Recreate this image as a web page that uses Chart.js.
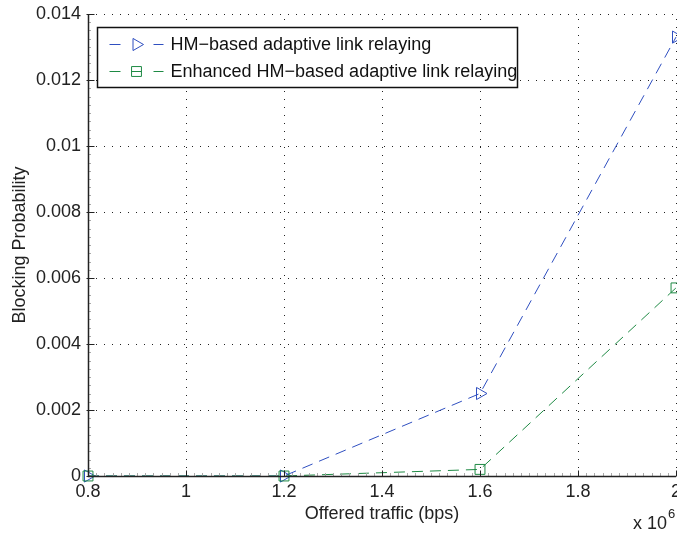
<!DOCTYPE html>
<html>
<head>
<meta charset="utf-8">
<script src="https://cdn.jsdelivr.net/npm/chart.js@4"></script>
<style>
html,body{margin:0;padding:0;background:#fff;}
#wrap{position:relative;width:677px;height:534px;}
</style>
</head>
<body>
<div id="wrap"><canvas id="c" width="677" height="534"></canvas></div>
<script>
// Data (offered traffic in units of 10^6 bps)
const offeredTraffic = [0.8, 1.2, 1.6, 2.0];
const hmBased = [0, 0, 0.0025, 0.0133];
const enhancedHmBased = [0, 0, 0.0002, 0.0057];
const seriesLabels = ['HM\u2212based adaptive link relaying', 'Enhanced HM\u2212based adaptive link relaying'];
const xTickValues = [0.8, 1, 1.2, 1.4, 1.6, 1.8, 2];
const yTickValues = [0, 0.002, 0.004, 0.006, 0.008, 0.01, 0.012, 0.014];
const xTitle = 'Offered traffic (bps)';
const yTitle = 'Blocking Probability';
const xMultiplierBase = 'x 10';
const xMultiplierExp = '6';

const FONT = "'Liberation Sans', Arial, Helvetica, sans-serif";
const BLUE = '#2f4fc0';
const GREEN = '#1e8a44';

const toPts = (xs, ys) => xs.map((x, i) => ({x: x, y: ys[i]}));

const matlabAxes = {
  id: 'matlabAxes',
  afterLayout(chart) {
    const x = chart.scales.x;
    const target = chart.width - 1;
    chart.chartArea.right = target;
    chart.chartArea.width = target - chart.chartArea.left;
    x.right = target;
    x.width = target - x.left;
    x.configure();
  },
  beforeDatasetsDraw(chart) {
    const {ctx, chartArea: a, scales: {x, y}} = chart;
    ctx.save();
    ctx.strokeStyle = '#222';
    ctx.lineWidth = 1;
    ctx.setLineDash([1, 7]);
    xTickValues.forEach(v => {
      const px = Math.round(x.getPixelForValue(v)) + 0.5;
      ctx.beginPath(); ctx.moveTo(px, a.bottom); ctx.lineTo(px, a.top); ctx.stroke();
    });
    yTickValues.forEach(v => {
      const py = Math.round(y.getPixelForValue(v)) + 0.5;
      ctx.beginPath(); ctx.moveTo(a.left, py); ctx.lineTo(a.right, py); ctx.stroke();
    });
    ctx.restore();
  },
  afterDatasetsDraw(chart) {
    const {ctx, chartArea: a, scales: {x, y}} = chart;
    ctx.save();
    // minor ticks
    ctx.strokeStyle = '#aaa';
    ctx.lineWidth = 1;
    for (let i = 0; i <= 56; i++) {
      const py = Math.round(y.getPixelForValue(i * 0.00025)) + 0.5;
      ctx.beginPath(); ctx.moveTo(a.left, py); ctx.lineTo(a.left + 3, py); ctx.stroke();
    }
    for (let i = 0; i <= 72; i++) {
      const px = Math.round(x.getPixelForValue(0.8 + i * 0.2 / 12)) + 0.5;
      ctx.beginPath(); ctx.moveTo(px, a.bottom); ctx.lineTo(px, a.bottom - 3); ctx.stroke();
    }
    // axis lines
    ctx.strokeStyle = '#222';
    ctx.lineWidth = 1.5;
    const lx = Math.round(a.left) + 0.5, by = Math.round(a.bottom) + 0.5;
    ctx.beginPath(); ctx.moveTo(lx, a.top); ctx.lineTo(lx, by); ctx.lineTo(a.right, by); ctx.stroke();
    // major ticks
    ctx.lineWidth = 1;
    xTickValues.forEach(v => {
      const px = Math.round(x.getPixelForValue(v)) + 0.5;
      ctx.beginPath(); ctx.moveTo(px, by); ctx.lineTo(px, by - 6); ctx.stroke();
    });
    yTickValues.forEach(v => {
      const py = Math.round(y.getPixelForValue(v)) + 0.5;
      ctx.beginPath(); ctx.moveTo(lx - 2, py); ctx.lineTo(lx + 6, py); ctx.stroke();
    });
    // multiplier
    ctx.fillStyle = '#222';
    ctx.textBaseline = 'alphabetic';
    ctx.font = '18px ' + FONT;
    ctx.textAlign = 'left';
    ctx.fillText(xMultiplierBase, 633, 529);
    const w = ctx.measureText(xMultiplierBase).width;
    ctx.font = '13px ' + FONT;
    ctx.fillText(xMultiplierExp, 633 + w + 1, 518);
    // legend
    const bx = a.left + 9.5, bY = a.top + 13.5, bw = 420, bh = 60;
    ctx.fillStyle = '#fff';
    ctx.fillRect(bx, bY, bw, bh);
    ctx.strokeStyle = '#111';
    ctx.lineWidth = 1.5;
    ctx.strokeRect(bx, bY, bw, bh);
    const rows = [bY + 16, bY + 43];
    chart.data.datasets.forEach((ds, i) => {
      const ry = Math.round(rows[i]) + 0.5;
      ctx.strokeStyle = ds.borderColor;
      ctx.lineWidth = 1;
      ctx.setLineDash([]);
      ctx.beginPath(); ctx.moveTo(bx + 12, ry); ctx.lineTo(bx + 23, ry); ctx.stroke();
      ctx.beginPath(); ctx.moveTo(bx + 56, ry); ctx.lineTo(bx + 66, ry); ctx.stroke();
      if (i === 1) { ctx.beginPath(); ctx.moveTo(bx + 34, ry); ctx.lineTo(bx + 44, ry); ctx.stroke(); }
      ctx.fillStyle = 'rgba(0,0,0,0)';
      Chart.helpers.drawPoint(ctx, {
        pointStyle: ds.pointStyle, rotation: ds.pointRotation || 0,
        radius: ds.pointRadius, borderWidth: 1
      }, bx + 39, ry);
      ctx.fillStyle = '#111';
      ctx.font = '18px ' + FONT;
      ctx.textAlign = 'left';
      ctx.textBaseline = 'middle';
      ctx.fillText(ds.label, bx + 73, ry + 1);
    });
    ctx.restore();
  }
};

new Chart(document.getElementById('c'), {
  type: 'line',
  data: {
    datasets: [
      {
        label: seriesLabels[0],
        data: toPts(offeredTraffic, hmBased),
        borderColor: BLUE, backgroundColor: 'rgba(0,0,0,0)',
        borderWidth: 1, borderDash: [11, 7],
        pointStyle: 'triangle', pointRotation: 90, pointRadius: 7,
        pointBorderColor: BLUE, pointBackgroundColor: 'rgba(0,0,0,0)', pointBorderWidth: 1,
        tension: 0, clip: false, order: 1
      },
      {
        label: seriesLabels[1],
        data: toPts(offeredTraffic, enhancedHmBased),
        borderColor: GREEN, backgroundColor: 'rgba(0,0,0,0)',
        borderWidth: 1, borderDash: [11, 7],
        pointStyle: 'rect', pointRadius: 7,
        pointBorderColor: GREEN, pointBackgroundColor: 'rgba(0,0,0,0)', pointBorderWidth: 1,
        tension: 0, clip: false, order: 0
      }
    ]
  },
  options: {
    responsive: false,
    animation: false,
    devicePixelRatio: 1,
    layout: {padding: {top: 14, right: 1, left: 0, bottom: 0}},
    plugins: {legend: {display: false}, tooltip: {enabled: false}},
    scales: {
      x: {
        type: 'linear', min: 0.8, max: 2,
        afterBuildTicks: s => { s.ticks = xTickValues.map(v => ({value: v})); },
        afterFit: s => { s.height = 58; s.paddingLeft = 0; s.paddingRight = 0; },
        grid: {display: false, drawTicks: false},
        border: {display: false},
        ticks: {
          padding: 5, color: '#222', maxRotation: 0, autoSkip: false,
          font: {family: FONT, size: 18},
          callback: v => parseFloat(Number(v).toFixed(1)).toString()
        },
        title: {display: true, text: xTitle, color: '#222', font: {family: FONT, size: 18}, padding: {top: 0, bottom: 9}}
      },
      y: {
        type: 'linear', min: 0, max: 0.014,
        afterBuildTicks: s => { s.ticks = yTickValues.map(v => ({value: v})); },
        afterFit: s => { s.width = 88; s.paddingTop = 0; s.paddingBottom = 0; },
        grid: {display: false, drawTicks: false},
        border: {display: false},
        ticks: {
          padding: 7, color: '#222', autoSkip: false,
          font: {family: FONT, size: 18},
          callback: v => v === 0 ? '0' : Number(v).toFixed(3).replace(/0+$/, '').replace(/\.$/, '')
        },
        title: {display: true, text: yTitle, color: '#222', font: {family: FONT, size: 18}, padding: {top: 9, bottom: 0}}
      }
    }
  },
  plugins: [matlabAxes]
});
</script>
</body>
</html>
